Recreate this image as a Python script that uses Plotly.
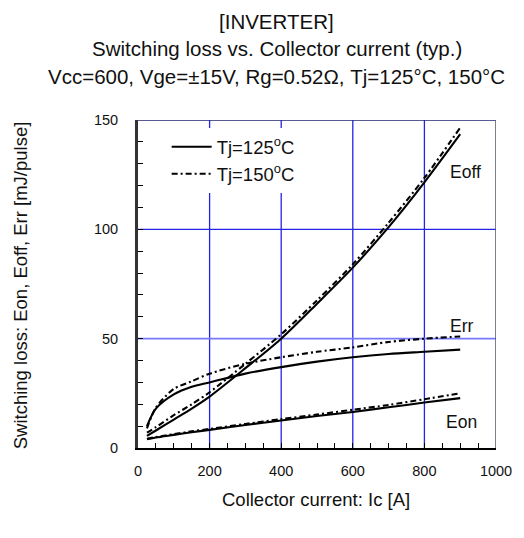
import plotly.graph_objects as go

# Collector current [A] sample points
ic = [25, 50, 100, 150, 200, 300, 400, 500, 600, 700, 800, 900]

# Tj = 125 degC
eoff_125 = [5.5, 8.0, 13.0, 18.0, 23.5, 36.5, 50.0, 66.0, 82.5, 101.0, 121.5, 143.5]
err_125 = [10.0, 18.0, 24.5, 28.0, 30.0, 34.0, 37.0, 39.5, 41.5, 43.0, 44.0, 45.0]
eon_125 = [4.0, 4.8, 6.0, 7.2, 8.3, 10.5, 12.6, 14.6, 16.5, 18.6, 20.8, 22.8]

# Tj = 150 degC
eoff_150 = [7.0, 9.5, 15.0, 20.0, 25.5, 38.5, 52.0, 67.5, 84.0, 103.0, 123.5, 146.5]
err_150 = [9.0, 18.5, 27.0, 30.5, 34.0, 38.5, 41.5, 44.0, 46.0, 48.5, 50.0, 51.0]
eon_150 = [4.2, 5.0, 6.3, 7.6, 8.7, 11.0, 13.2, 15.3, 17.5, 19.7, 22.3, 25.0]

x_ticks = [0, 200, 400, 600, 800, 1000]
y_ticks = [0, 50, 100, 150]

title_lines = [
    "[INVERTER]",
    "Switching loss vs. Collector current (typ.)",
    "Vcc=600, Vge=±15V, Rg=0.52Ω, Tj=125°C, 150°C",
]
x_title = "Collector current: Ic [A]"
y_title = "Switching loss: Eon, Eoff, Err [mJ/pulse]"

FONT = "Liberation Sans, Arial"
INK = "#111111"
fig = go.Figure()

solid = dict(color="black", width=2.1)
dashed = dict(color="black", width=2.1, dash="6px,3px,2px,3px")

for name, ys, line, show in [
    ("Tj=125<sup>o</sup>C", eoff_125, solid, True),
    ("Tj=125<sup>o</sup>C", err_125, solid, False),
    ("Tj=125<sup>o</sup>C", eon_125, solid, False),
    ("Tj=150<sup>o</sup>C", eoff_150, dashed, True),
    ("Tj=150<sup>o</sup>C", err_150, dashed, False),
    ("Tj=150<sup>o</sup>C", eon_150, dashed, False),
]:
    fig.add_trace(go.Scatter(
        x=ic, y=ys, mode="lines", name=name, showlegend=show,
        line=dict(shape="spline", smoothing=0.8, **line),
    ))

# empty trace binding the label-only y axis
fig.add_trace(go.Scatter(x=[None], y=[None], yaxis="y2", showlegend=False,
                         hoverinfo="skip", mode="lines"))

# Blue grid lines
grid_blue = "#2424e6"
for gx in [200, 400, 600, 800]:
    fig.add_shape(type="line", x0=gx, x1=gx, y0=0, y1=150, xref="x", yref="y",
                  line=dict(color=grid_blue, width=1.3), layer="below")
fig.add_shape(type="line", x0=0, x1=1000, y0=100, y1=100, xref="x", yref="y",
              line=dict(color=grid_blue, width=1.3), layer="below")
fig.add_shape(type="line", x0=0, x1=1000, y0=50, y1=50, xref="x", yref="y",
              line=dict(color="#7878ff", width=1.6), layer="below")
# frame: top and right borders
fig.add_shape(type="line", x0=0, x1=1000, y0=150, y1=150, xref="x", yref="y",
              line=dict(color="#23236e", width=1.5))
fig.add_shape(type="line", x0=1000, x1=1000, y0=0, y1=150, xref="x", yref="y",
              line=dict(color="#555566", width=1.5))

# Curve labels
for txt, ax, ay in [("Eoff", 916, 126), ("Err", 905, 56), ("Eon", 903, 12)]:
    fig.add_annotation(x=ax, y=ay, text=txt, showarrow=False, xref="x", yref="y",
                       font=dict(size=17.5, color=INK, family=FONT))

# Three-line heading
for txt, py in zip(title_lines, [1.299, 1.2195, 1.134]):
    fig.add_annotation(x=0.387, y=py, xref="paper", yref="paper", text=txt,
                       showarrow=False, xanchor="center", yanchor="middle",
                       font=dict(size=20.5, color=INK, family=FONT))

# Axis titles
fig.add_annotation(x=0.497, y=-0.1585, xref="paper", yref="paper", text=x_title,
                   showarrow=False, xanchor="center", yanchor="middle",
                   font=dict(size=18.5, color=INK, family=FONT))
fig.add_annotation(x=-0.326, y=0.497, xref="paper", yref="paper", text=y_title,
                   showarrow=False, xanchor="center", yanchor="middle", textangle=-90,
                   font=dict(size=18.5, color=INK, family=FONT))

fig.update_layout(
    width=524, height=538,
    margin=dict(l=138, r=24, t=120, b=90),
    paper_bgcolor="white", plot_bgcolor="white",
    font=dict(family=FONT, size=14, color=INK),
    legend=dict(
        x=0.08, y=0.975, xanchor="left", yanchor="top",
        bgcolor="white", borderwidth=0,
        font=dict(size=18.5, family=FONT, color=INK),
        tracegroupgap=0, itemwidth=40,
    ),
    showlegend=True,
    # second y axis only carries the tick labels, set further out from the frame
    yaxis2=dict(
        overlaying="y", side="left", anchor="x", range=[0, 150],
        tickvals=y_ticks, ticktext=[str(v) for v in y_ticks],
        ticks="outside", ticklen=16, tickcolor="rgba(0,0,0,0)",
        showline=False, showgrid=False, zeroline=False,
        tickfont=dict(size=14.5, family=FONT, color=INK),
    ),
)

fig.update_xaxes(
    range=[0, 1000], tickvals=x_ticks, ticktext=[str(v) for v in x_ticks],
    showgrid=False, zeroline=False, showline=True, linecolor="black", linewidth=2,
    ticks="inside", ticklen=5, tickcolor="black", ticklabelstandoff=9,
    minor=dict(dtick=50, ticks="inside", ticklen=5, tickcolor="black", showgrid=False),
    tickfont=dict(size=14.5),
)
fig.update_yaxes(
    selector=dict(overlaying=None) if False else None,
)
fig.layout.yaxis.update(
    range=[0, 150], tickvals=y_ticks, showticklabels=False,
    showgrid=False, zeroline=False, showline=True, linecolor="#333333", linewidth=3,
    ticks="inside", ticklen=5, tickcolor="black",
    minor=dict(dtick=10, ticks="inside", ticklen=5, tickcolor="black", showgrid=False),
)

fig.write_html("out.html")
